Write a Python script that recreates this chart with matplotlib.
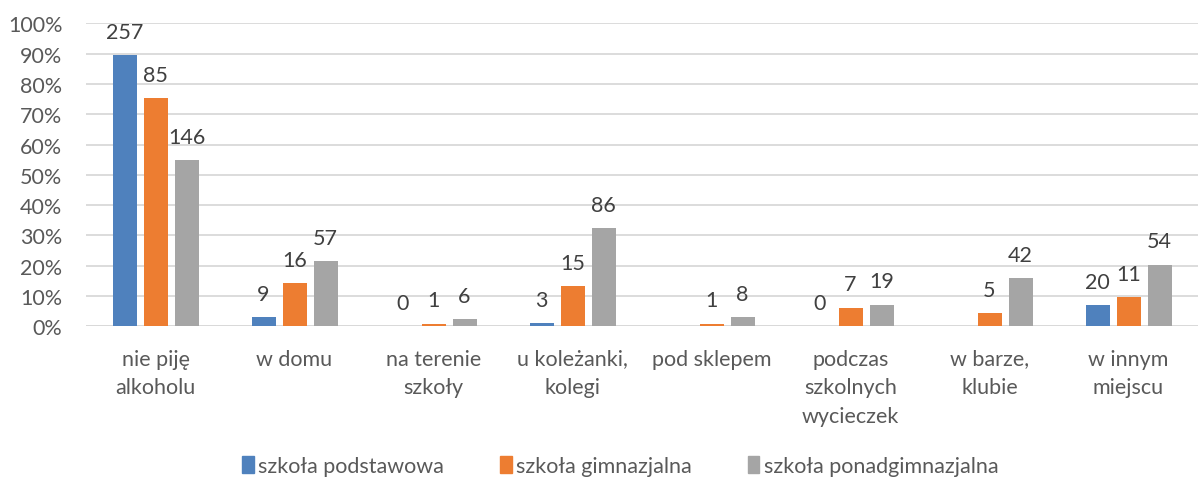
import numpy as np
import matplotlib.pyplot as plt
from matplotlib.patches import Patch

plt.rcParams['font.family'] = ['Lato', 'DejaVu Sans']

categories = ["nie piję\nalkoholu", "w domu", "na terenie\nszkoły", "u koleżanki,\nkolegi",
              "pod sklepem", "podczas\nszkolnych\nwycieczek", "w barze,\nklubie", "w innym\nmiejscu"]
series = ["szkoła podstawowa", "szkoła gimnazjalna", "szkoła ponadgimnazjalna"]

# percentages (bar heights)
pct_podst = [89.5, 3.1, 0.0, 1.0, 0.0, 0.0, 0.0, 7.0]
pct_gimn = [75.2, 14.2, 0.9, 13.3, 0.9, 6.2, 4.4, 9.7]
pct_ponad = [54.9, 21.4, 2.3, 32.3, 3.0, 7.1, 15.8, 20.3]

# counts shown as data labels (None = no label)
cnt_podst = [257, 9, 0, 3, None, 0, None, 20]
cnt_gimn = [85, 16, 1, 15, 1, 7, 5, 11]
cnt_ponad = [146, 57, 6, 86, 8, 19, 42, 54]

colors = ["#4F81BD", "#ED7D31", "#A5A5A5"]
txt = "#595959"
fs = 15.5

fig = plt.figure(figsize=(11.99, 4.81), dpi=100)
ax = fig.add_axes([86/1199, 1-327.3/481, 1112/1199, (327.3-24.3)/481])

x = np.arange(len(categories))
w = 24/139
step = 31/139
for i, (p, c) in enumerate(zip([pct_podst, pct_gimn, pct_ponad], [cnt_podst, cnt_gimn, cnt_ponad])):
    xs = x + (i-1)*step
    ax.bar(xs, p, width=w, color=colors[i], zorder=3)
    for xx, pp, cc in zip(xs, p, c):
        if cc is None:
            continue
        ax.annotate(str(cc), (xx, pp), xytext=(0, 12.5), textcoords="offset points",
                    ha="center", va="baseline", fontsize=fs, color="#404040")

ax.set_xlim(-0.5, len(categories)-0.5)
ax.set_ylim(0, 100)
ax.set_yticks(np.arange(0, 101, 10))
ax.set_yticklabels([f"{v}%" for v in range(0, 101, 10)])
ax.set_xticks(x)
ax.set_xticklabels(categories, linespacing=1.55)
ax.tick_params(axis="both", length=0, labelsize=fs, labelcolor=txt)
ax.tick_params(axis="x", pad=16)
ax.tick_params(axis="y", pad=17)
for s in ax.spines.values():
    s.set_visible(False)
ax.grid(axis="y", color="#D9D9D9", linewidth=1.3, zorder=0)
ax.axhline(0, color="#D9D9D9", linewidth=1.3, zorder=1)

handles = [Patch(color=c) for c in colors]
fig.legend(handles, series, loc="center", bbox_to_anchor=(620/1199, 1-467/481), ncol=3,
           frameon=False, fontsize=fs, labelcolor=txt, handlelength=0.55, handleheight=0.8,
           handletextpad=0.2, columnspacing=2.6)

fig.savefig("out.png", dpi=100)
